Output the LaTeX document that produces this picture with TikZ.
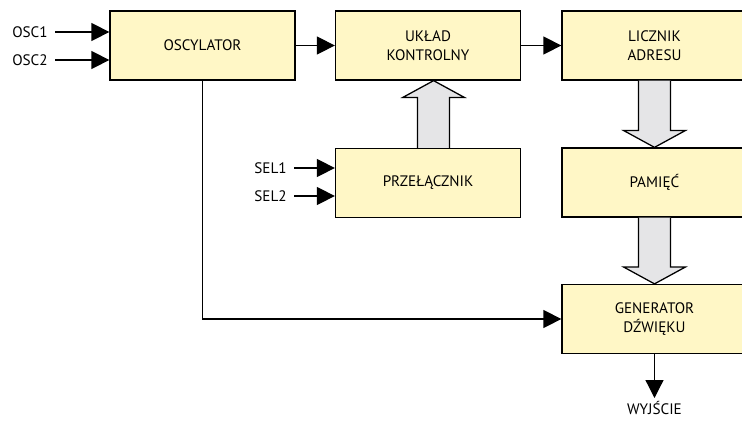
\documentclass[tikz,border=0pt]{standalone}
\usepackage{fontspec}
\setmainfont{PT Sans}
\usepackage{tikz}
\usetikzlibrary{arrows.meta, positioning, calc}
\definecolor{boxfill}{RGB}{255,247,198}
\definecolor{arrowgray}{RGB}{229,229,231}

\tikzset{
  block/.style={draw, line width=0.9pt, fill=boxfill, minimum width=4.625cm, minimum height=1.725cm, align=center, font=\fontsize{10.8}{13.7}\selectfont},
  sig/.style={-{Triangle[length=4.5mm, width=4.5mm]}, line width=0.9pt},
  lbl/.style={font=\fontsize{10.8}{13.7}\selectfont, inner xsep=5pt, inner ysep=1pt},
  hollow/.style={draw, line width=0.9pt, fill=arrowgray, line join=miter},
}

% wide outlined arrow between two points on one vertical line
\newcommand{\blockarrow}[2]{%
  \draw[hollow] let \p1=(#1), \p2=(#2), \n1={sign(\y2-\y1)} in
    (\x1-0.4cm,\y1) -- (\x1-0.4cm,\y2-\n1*0.42cm) -- (\x1-0.77cm,\y2-\n1*0.42cm)
    -- (\x1,\y2) -- (\x1+0.77cm,\y2-\n1*0.42cm) -- (\x1+0.4cm,\y2-\n1*0.42cm) -- (\x1+0.4cm,\y1);}

\begin{document}
\begin{tikzpicture}
  \useasboundingbox (0,0) rectangle (18.55,-10.5);
  % Blocks
  \node[block] (osc) at (5.0625, -1.1375) {OSCYLATOR};
  \node[block] (ukl) at (10.7, -1.1375) {UKŁAD\\KONTROLNY};
  \node[block] (lic) at (16.3625, -1.1375) {LICZNIK\\ADRESU};
  \node[block] (prz) at (10.7, -4.575) {PRZEŁĄCZNIK};
  \node[block] (pam) at (16.3625, -4.5625) {PAMIĘĆ};
  \node[block] (gen) at (16.3625, -7.975) {GENERATOR\\DŹWIĘKU};
  % Inputs
  \node[lbl, anchor=east] (osc1) at (1.375, -0.8) {OSC1};
  \node[lbl, anchor=east] (osc2) at (1.375, -1.5) {OSC2};
  \node[lbl, anchor=east] (sel1) at (7.35, -4.2) {SEL1};
  \node[lbl, anchor=east] (sel2) at (7.35, -4.9) {SEL2};
  \draw[sig] (osc1) -- (osc1 -| osc.west);
  \draw[sig] (osc2) -- (osc2 -| osc.west);
  \draw[sig] (sel1) -- (sel1 -| prz.west);
  \draw[sig] (sel2) -- (sel2 -| prz.west);
  % Signal arrows
  \draw[sig] (osc) -- (ukl);
  \draw[sig] (ukl) -- (lic);
  \draw[sig] (osc.south) |- (gen.west);
  % Output
  \coordinate (out) at (16.3625, -9.95);
  \draw[sig] (gen) -- (out);
  \node[lbl, anchor=base] (wy) at (16.3625, -10.37) {WYJŚCIE};
  % Wide arrows
  \coordinate (przup) at ($(prz.north)+(0.14,0)$);
  \coordinate (uklin) at ($(ukl.south)+(0.14,0)$);
  \blockarrow{przup}{uklin}
  \blockarrow{lic.south}{pam.north}
  \blockarrow{pam.south}{gen.north}
\end{tikzpicture}
\end{document}
